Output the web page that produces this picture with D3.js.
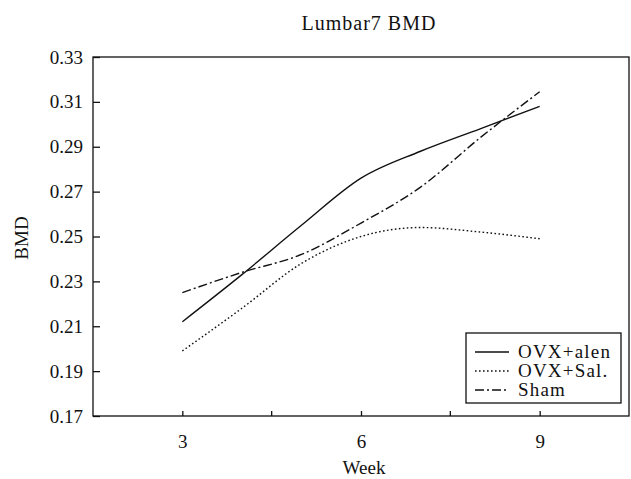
<!DOCTYPE html>
<html>
<head>
<meta charset="utf-8">
<script src="https://cdn.jsdelivr.net/npm/d3@7"></script>
<style>
  body { margin: 0; background: #fff; }
  svg text { font-family: "Liberation Serif", "Times New Roman", serif; fill: #111; }
</style>
</head>
<body>
<svg id="chart" width="631" height="479"></svg>
<script>
// weeks measured
const weeks = [3, 4, 5, 6, 7, 8, 9];

// BMD per group
const ovxAlen = [0.212, 0.233, 0.255, 0.276, 0.288, 0.298, 0.308];
const ovxSal  = [0.199, 0.218, 0.238, 0.250, 0.254, 0.252, 0.249];
const sham    = [0.225, 0.234, 0.242, 0.256, 0.272, 0.294, 0.3145];

const seriesNames = ['OVX+alen', 'OVX+Sal.', 'Sham'];
const seriesDash  = [null, '1.6,2.4', '9,3,2,3'];

const yTicks = [0.17, 0.19, 0.21, 0.23, 0.25, 0.27, 0.29, 0.31, 0.33];
const xTicks = [3, 6, 9];
const xMinor = [4.5, 7.5];

const plotLeft = 93, plotRight = 629, plotTop = 57, plotBottom = 416;

const svg = d3.select('#chart');

const xScale = d3.scaleLinear().domain([1.5, 10.5]).range([plotLeft, plotRight]);
const yScale = d3.scaleLinear().domain([0.17, 0.33]).range([plotBottom, plotTop]);

// frame
svg.append('rect')
  .attr('x', plotLeft).attr('y', plotTop)
  .attr('width', plotRight - plotLeft).attr('height', plotBottom - plotTop)
  .attr('fill', 'none').attr('stroke', '#111').attr('stroke-width', 1.3);

// y axis (ticks pointing inwards)
const yAxis = d3.axisLeft(yScale).tickValues(yTicks).tickFormat(d3.format('.2f')).tickSizeInner(-7).tickSizeOuter(0).tickPadding(10);
const gy = svg.append('g').attr('transform', `translate(${plotLeft},0)`).call(yAxis);
gy.select('.domain').remove();
gy.selectAll('line').attr('stroke', '#111').attr('stroke-width', 1.3);
gy.selectAll('text').style('font-size', '19px').attr('fill', '#111');

// x axis
const xAxis = d3.axisBottom(xScale).tickValues(xTicks).tickFormat(d3.format('d')).tickSizeInner(-5).tickSizeOuter(0).tickPadding(19);
const gx = svg.append('g').attr('transform', `translate(0,${plotBottom})`).call(xAxis);
gx.select('.domain').remove();
gx.selectAll('line').attr('stroke', '#111').attr('stroke-width', 1.3);
gx.selectAll('text').style('font-size', '19px').attr('fill', '#111');

svg.append('g').selectAll('line').data(xMinor).join('line')
  .attr('x1', d => xScale(d)).attr('x2', d => xScale(d))
  .attr('y1', plotBottom).attr('y2', plotBottom - 5)
  .attr('stroke', '#111').attr('stroke-width', 1.3);

// lines
const line = d3.line()
  .x(d => xScale(d[0]))
  .y(d => yScale(d[1]))
  .curve(d3.curveMonotoneX);

const allSeries = [ovxAlen, ovxSal, sham];
allSeries.forEach((vals, i) => {
  svg.append('path')
    .attr('d', line(weeks.map((w, j) => [w, vals[j]])))
    .attr('fill', 'none')
    .attr('stroke', '#111')
    .attr('stroke-width', 1.4)
    .attr('stroke-dasharray', seriesDash[i]);
});

// titles
svg.append('text')
  .attr('x', 369).attr('y', 30)
  .attr('text-anchor', 'middle')
  .style('font-size', '20px')
  .style('letter-spacing', '1px')
  .text('Lumbar7 BMD');

svg.append('text')
  .attr('x', 364).attr('y', 474)
  .attr('text-anchor', 'middle')
  .style('font-size', '19px')
  .text('Week');

svg.append('text')
  .attr('transform', 'translate(28,238) rotate(-90)')
  .attr('text-anchor', 'middle')
  .style('font-size', '19px')
  .text('BMD');

// legend
const legend = svg.append('g');
legend.append('rect')
  .attr('x', 466).attr('y', 333).attr('width', 155).attr('height', 70)
  .attr('fill', '#fff').attr('stroke', '#111').attr('stroke-width', 1.3);

seriesNames.forEach((name, i) => {
  const y = 352 + i * 19;
  legend.append('line')
    .attr('x1', 475).attr('x2', 509).attr('y1', y).attr('y2', y)
    .attr('stroke', '#111').attr('stroke-width', 1.4)
    .attr('stroke-dasharray', seriesDash[i]);
  legend.append('text')
    .attr('x', 518).attr('y', y + 6)
    .style('font-size', '19px')
    .style('letter-spacing', '1.2px')
    .text(name);
});
</script>
</body>
</html>
